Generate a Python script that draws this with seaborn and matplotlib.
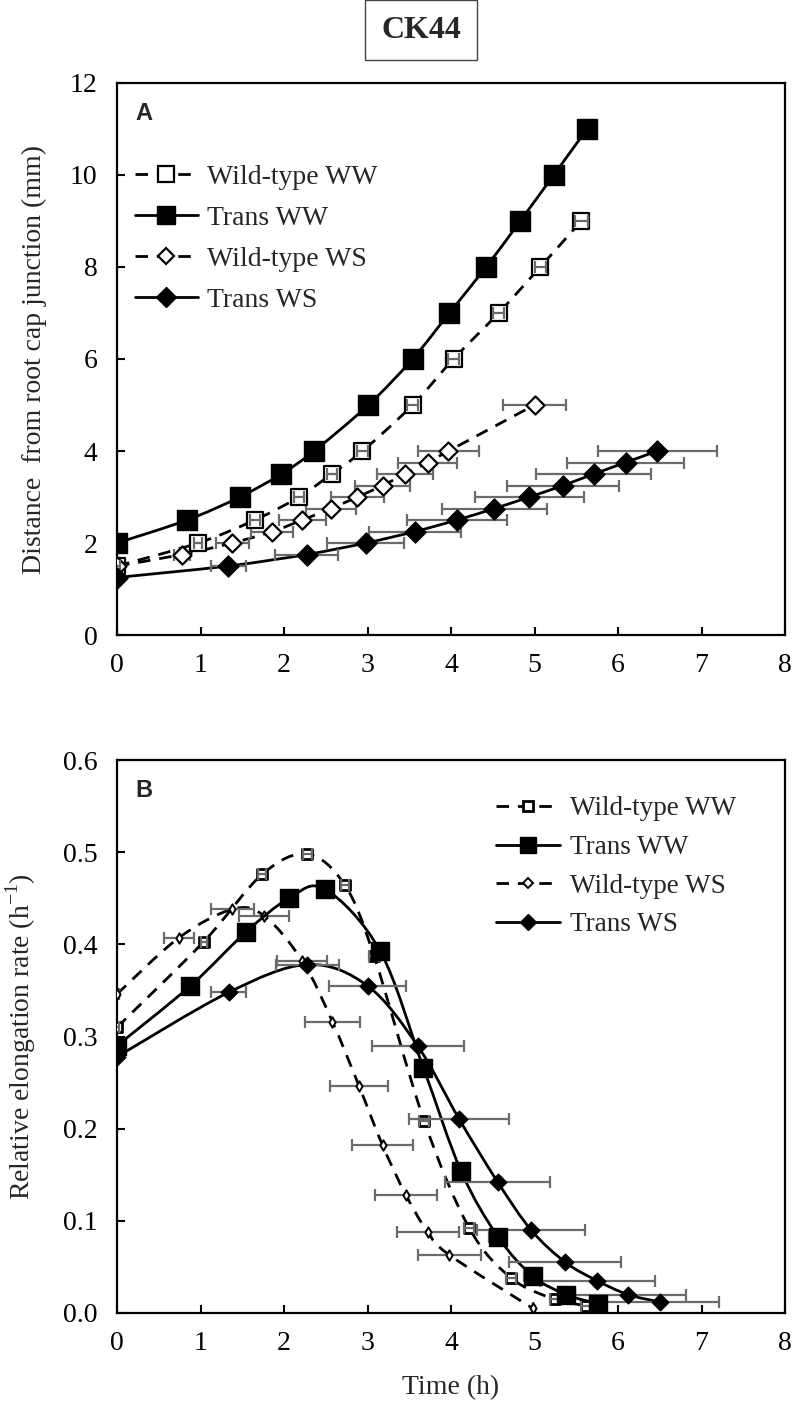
import numpy as np
import matplotlib
matplotlib.use("Agg")
import matplotlib.pyplot as plt
import seaborn as sns
from matplotlib.path import Path
from matplotlib.patches import PathPatch
from matplotlib.lines import Line2D

# ---------------- Panel A: distance from root cap junction (mm) ----------------
a_wt_ww_t = [0, 0.97, 1.65, 2.18, 2.57, 2.94, 3.54, 4.03, 4.57, 5.07, 5.56]
a_wt_ww_d = [1.5, 2, 2.5, 3, 3.5, 4, 5, 6, 7, 8, 9]
a_wt_ww_e = [0.03, 0.05, 0.06, 0.06, 0.06, 0.06, 0.07, 0.07, 0.07, 0.07, 0.08]

a_tr_ww_t = [0, 0.84, 1.47, 1.97, 2.36, 3.01, 3.54, 3.98, 4.42, 4.83, 5.23, 5.63]
a_tr_ww_d = [2, 2.5, 3, 3.5, 4, 5, 6, 7, 8, 9, 10, 11]
a_tr_ww_e = [0.02, 0.04, 0.05, 0.06, 0.06, 0.08, 0.09, 0.1, 0.1, 0.1, 0.1, 0.1]

a_wt_ws_t = [0, 0.78, 1.38, 1.86, 2.22, 2.56, 2.88, 3.18, 3.45, 3.72, 3.97, 5.0]
a_wt_ws_d = [1.5, 1.75, 2, 2.25, 2.5, 2.75, 3, 3.25, 3.5, 3.75, 4, 5]
a_wt_ws_e = [0.03, 0.1, 0.2, 0.25, 0.28, 0.3, 0.32, 0.33, 0.34, 0.35, 0.36, 0.38]

a_tr_ws_t = [0, 1.33, 2.27, 2.98, 3.57, 4.07, 4.52, 4.94, 5.34, 5.71, 6.09, 6.47]
a_tr_ws_d = [1.25, 1.5, 1.75, 2, 2.25, 2.5, 2.75, 3, 3.25, 3.5, 3.75, 4]
a_tr_ws_e = [0.02, 0.21, 0.38, 0.46, 0.55, 0.6, 0.63, 0.65, 0.67, 0.69, 0.7, 0.71]

# ---------------- Panel B: relative elongation rate (h-1) ----------------
b_wt_ww_t = [0, 1.04, 1.74, 2.28, 2.73, 3.08, 3.68, 4.22, 4.72, 5.24, 5.62]
b_wt_ww_r = [0.31, 0.403, 0.476, 0.498, 0.464, 0.387, 0.208, 0.092, 0.038, 0.015, 0.008]
b_wt_ww_e = [0.02, 0.04, 0.05, 0.05, 0.05, 0.06, 0.06, 0.06, 0.06, 0.06, 0.06]

b_tr_ww_t = [0, 0.88, 1.54, 2.06, 2.49, 3.15, 3.67, 4.12, 4.56, 4.98, 5.38, 5.76]
b_tr_ww_r = [0.29, 0.355, 0.413, 0.45, 0.46, 0.393, 0.266, 0.154, 0.083, 0.04, 0.02, 0.01]
b_tr_ww_e = [0.02, 0.04, 0.05, 0.06, 0.06, 0.08, 0.09, 0.1, 0.1, 0.1, 0.1, 0.1]

b_wt_ws_t = [0, 0.74, 1.38, 1.76, 2.22, 2.58, 2.9, 3.18, 3.46, 3.72, 3.98, 4.98]
b_wt_ws_r = [0.346, 0.407, 0.438, 0.431, 0.382, 0.316, 0.246, 0.182, 0.128, 0.088, 0.063, 0.005]
b_wt_ws_e = [0.02, 0.18, 0.26, 0.3, 0.3, 0.33, 0.35, 0.36, 0.37, 0.37, 0.38, 0.0]

b_tr_ws_t = [0, 1.34, 2.28, 3.0, 3.6, 4.1, 4.56, 4.96, 5.37, 5.75, 6.12, 6.5]
b_tr_ws_r = [0.278, 0.348, 0.378, 0.355, 0.29, 0.21, 0.142, 0.09, 0.055, 0.035, 0.02, 0.012]
b_tr_ws_e = [0.02, 0.21, 0.38, 0.46, 0.55, 0.6, 0.63, 0.65, 0.67, 0.69, 0.7, 0.71]

labels = ["Wild-type WW", "Trans WW", "Wild-type WS", "Trans WS"]
x_ticks = [0, 1, 2, 3, 4, 5, 6, 7, 8]
a_y_ticks = [0, 2, 4, 6, 8, 10, 12]
b_y_ticks = [0.0, 0.1, 0.2, 0.3, 0.4, 0.5, 0.6]

# ---------------- style ----------------
sns.set_theme(style="ticks")
plt.rcParams["font.family"] = ["Liberation Serif", "DejaVu Serif"]
plt.rcParams["mathtext.fontset"] = "custom"
plt.rcParams["mathtext.rm"] = "Liberation Serif"
FS = 20
ERR_C = "#6b6b6b"
DASH = (0, (4.5, 3.2))
LW = 2.0


def smooth_path(x, y):
    pts = np.column_stack([np.asarray(x, float), np.asarray(y, float)])
    n = len(pts)
    verts = [pts[0]]
    codes = [Path.MOVETO]
    for i in range(n - 1):
        p0 = pts[i - 1] if i > 0 else pts[i]
        p1 = pts[i]
        p2 = pts[i + 1]
        p3 = pts[i + 2] if i + 2 < n else pts[i + 1]
        c1 = p1 + (p2 - p0) / 6.0
        c2 = p2 - (p3 - p1) / 6.0
        verts += [c1, c2, p2]
        codes += [Path.CURVE4] * 3
    return Path(verts, codes)


def draw_series(ax, t, v, e, ls, marker, s, fc, ec, mlw, z, bars_on_top=False):
    ax.add_patch(PathPatch(smooth_path(t, v), fill=False, ec="black",
                           lw=LW, ls=ls, zorder=z, capstyle="butt"))
    ez = z + 1.5 if bars_on_top else z + 0.5
    ax.errorbar(t, v, xerr=e, fmt="none", ecolor=ERR_C, elinewidth=1.6,
                capsize=4, capthick=1.6, zorder=ez)
    sns.scatterplot(x=t, y=v, ax=ax, marker=marker, s=s, color=fc,
                    edgecolor=ec, linewidth=mlw, zorder=z + 1, legend=False)


def style_axes(ax, yticks, ylim, yfmt):
    ax.set_xlim(0, 8)
    ax.set_ylim(*ylim)
    ax.set_xticks(x_ticks)
    ax.set_yticks(yticks)
    ax.set_xticklabels([str(v) for v in x_ticks])
    ax.set_yticklabels([yfmt.format(v) for v in yticks])
    for sp in ax.spines.values():
        sp.set_visible(True)
        sp.set_linewidth(1.6)
        sp.set_color("black")
    ax.tick_params(axis="both", direction="in", length=6, width=1.5,
                   labelsize=FS, colors="black")
    ax.tick_params(axis="x", pad=13)
    ax.tick_params(axis="y", pad=14)
    ax.tick_params(top=False, right=False)
    ax.set_facecolor("white")


def legend_handles(ms_list):
    hs = []
    specs = [("--", "s", "white"), ("-", "s", "black"),
             ("--", "D", "white"), ("-", "D", "black")]
    for (ls, mk, fc), (ms, mew) in zip(specs, ms_list):
        hs.append(Line2D([0], [0], color="black", lw=LW,
                         ls=DASH if ls == "--" else "-",
                         marker=mk, markersize=ms, markerfacecolor=fc,
                         markeredgecolor="black", markeredgewidth=mew))
    return hs


fig = plt.figure(figsize=(7.93, 14.17), dpi=100)
fig.patch.set_facecolor("white")

W = 1417.0
axA = fig.add_axes([117 / 793, 1 - 635 / W, 668 / 793, 552 / W])
axB = fig.add_axes([117 / 793, 1 - 1313 / W, 668 / 793, 553 / W])

# ---- Panel A ----
draw_series(axA, a_wt_ww_t, a_wt_ww_d, a_wt_ww_e, DASH, "s", 140, "white", "black", 1.6, 2, True)
draw_series(axA, a_tr_ww_t, a_tr_ww_d, a_tr_ww_e, "-", "s", 190, "black", "black", 1.0, 5)
draw_series(axA, a_wt_ws_t, a_wt_ws_d, a_wt_ws_e, DASH, "D", 85, "white", "black", 1.6, 2)
draw_series(axA, a_tr_ws_t, a_tr_ws_d, a_tr_ws_e, "-", "D", 115, "black", "black", 1.0, 5)
style_axes(axA, a_y_ticks, (0, 12), "{:.0f}")
axA.set_xlabel("")
axA.set_ylabel("Distance  from root cap junction (mm)", fontsize=FS, labelpad=10)
axA.yaxis.set_label_coords(-0.105, 0.5)
axA.text(0.027, 0.965, "A", transform=axA.transAxes, ha="left", va="top",
         fontsize=17, fontweight="bold", family="Liberation Sans")
legA = axA.legend(legend_handles([(11.5, 1.6), (13.5, 1.0), (8.5, 1.6), (10.5, 1.0)]),
                  labels, loc="upper left", bbox_to_anchor=(0.027, 0.852),
                  frameon=False, fontsize=FS, handlelength=2.25,
                  handletextpad=0.35, labelspacing=0.56, borderpad=0,
                  borderaxespad=0)

# ---- Panel B ----
draw_series(axB, b_wt_ww_t, b_wt_ww_r, b_wt_ww_e, DASH, "s", 45, "white", "black", 2.0, 2, True)
draw_series(axB, b_tr_ww_t, b_tr_ww_r, b_tr_ww_e, "-", "s", 150, "black", "black", 1.0, 5)
draw_series(axB, b_wt_ws_t, b_wt_ws_r, b_wt_ws_e, DASH, "d", 28, "white", "black", 1.4, 2)
draw_series(axB, b_tr_ws_t, b_tr_ws_r, b_tr_ws_e, "-", "D", 72, "black", "black", 1.0, 5)
style_axes(axB, b_y_ticks, (0, 0.6), "{:.1f}")
axB.set_xlabel("Time (h)", fontsize=FS, labelpad=14)
axB.set_ylabel("Relative elongation rate (h$^{\\mathregular{-1}}$)", fontsize=FS, labelpad=10)
axB.yaxis.set_label_coords(-0.118, 0.5)
axB.text(0.027, 0.965, "B", transform=axB.transAxes, ha="left", va="top",
         fontsize=17, fontweight="bold", family="Liberation Sans")
legB = axB.legend(legend_handles([(6.5, 2.0), (12.0, 1.0), (5.0, 1.4), (8.5, 1.0)]),
                  labels, loc="upper left", bbox_to_anchor=(0.568, 0.934),
                  frameon=False, fontsize=FS - 0.5, handlelength=2.35,
                  handletextpad=0.35, labelspacing=0.5, borderpad=0,
                  borderaxespad=0)

# ---- Title box ----
fig.text(0.531, 1 - 30 / W, "CK44", ha="center", va="center", fontsize=23,
         fontweight="bold",
         bbox=dict(boxstyle="square,pad=0.5", fc="white", ec="#444444", lw=1.0))

fig.savefig("out.png", dpi=100, facecolor="white")
